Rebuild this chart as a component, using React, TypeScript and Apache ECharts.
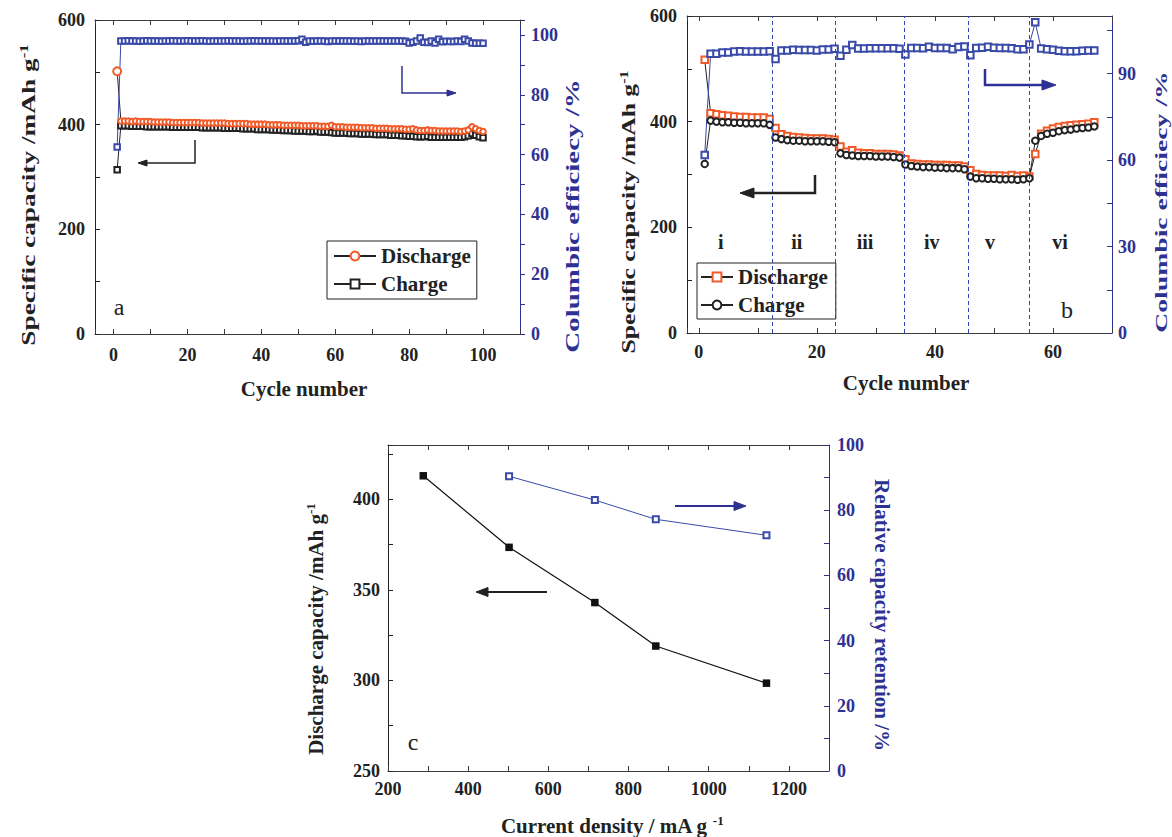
import React, { useEffect, useRef } from 'react';
import * as echarts from 'echarts';

const FONT = '"Liberation Serif", "Times New Roman", serif';
const BLUE_AXIS = '#2e3192';
const BLUE_MARK = '#3a4aa8';
const ORANGE = '#f15a29';
const DARK = '#222222';
const AXIS_GRAY = '#3a3a3a';

// ---------- Panel a : cycling at constant current ----------
const dischargeA = [
  502,
  407, 407, 407, 406, 407, 406, 406, 406, 406,
  405, 405, 405, 405, 405, 404, 404, 404, 404, 404,
  404, 404, 404, 403, 403, 403, 403, 403, 403, 403,
  402, 402, 402, 402, 402, 402, 401, 401, 401, 401,
  401, 400, 400, 400, 400, 399, 399, 399, 399, 399,
  398, 398, 398, 398, 398, 397, 397, 397, 399, 396,
  396, 396, 395, 395, 395, 395, 394, 394, 394, 394,
  393, 393, 393, 393, 392, 392, 392, 392, 391, 391,
  392, 390, 389, 389, 390, 389, 389, 388, 388, 388,
  388, 388, 388, 387, 388, 390, 396, 392, 389, 387,
];
const chargeA = [
  314,
  398, 398, 398, 397, 397, 397, 397, 396, 396,
  396, 396, 396, 396, 396, 395, 395, 395, 395, 395,
  395, 395, 395, 394, 394, 394, 394, 394, 394, 393,
  393, 393, 393, 393, 392, 392, 392, 392, 391, 391,
  391, 391, 390, 390, 390, 389, 389, 389, 388, 388,
  388, 388, 387, 387, 388, 386, 386, 386, 385, 384,
  384, 384, 384, 383, 383, 383, 382, 382, 382, 382,
  381, 381, 381, 381, 380, 380, 380, 379, 379, 378,
  378, 377, 377, 377, 378, 376, 376, 376, 376, 376,
  376, 376, 376, 376, 377, 379, 383, 380, 377, 375,
];
const efficiencyA = [
  62.5,
  98.0, 98.0, 98.1, 98.0, 98.0, 97.9, 98.0, 98.1, 98.0,
  98.0, 98.0, 97.9, 98.0, 98.0, 98.1, 98.0, 98.0, 98.0, 98.1,
  98.0, 98.0, 98.0, 98.1, 98.0, 97.9, 98.0, 98.0, 98.0, 98.0,
  98.1, 98.0, 98.0, 98.0, 97.9, 98.0, 98.0, 98.1, 98.0, 98.0,
  98.0, 98.0, 98.0, 97.9, 98.0, 98.0, 98.0, 98.0, 98.0, 98.1,
  98.6, 97.6, 98.0, 97.9, 98.0, 98.0, 98.0, 97.8, 98.0, 98.0,
  98.0, 98.0, 98.0, 98.0, 97.9, 98.0, 97.8, 98.0, 98.0, 98.0,
  98.0, 98.0, 98.0, 98.0, 98.0, 98.0, 98.0, 98.0, 97.9, 97.3,
  97.6, 98.0, 99.0, 97.6, 97.5, 98.0, 97.3, 98.6, 97.7, 97.9,
  97.8, 97.8, 98.0, 97.8, 98.6, 98.0, 97.3, 97.2, 97.2, 97.2,
];

// ---------- Panel b : rate capability ----------
const dischargeB = [
  517, 416, 414, 412, 411, 410, 409, 409, 408, 408, 408, 405,
  388, 376, 373, 371, 370, 369, 368, 368, 368, 367, 366,
  353, 343, 346, 341, 340, 340, 339, 339, 339, 338, 336,
  329, 321, 320, 319, 319, 318, 318, 318, 317, 317, 315,
  308, 301, 299, 298, 298, 298, 297, 299, 297, 298, 296,
  339, 377, 383, 387, 390, 392, 393, 394, 395, 396, 399,
];
const chargeB = [
  320, 402, 400, 399, 399, 398, 398, 397, 397, 397, 397, 394,
  370, 367, 365, 364, 364, 363, 363, 363, 363, 362, 361,
  340, 337, 336, 335, 335, 335, 334, 334, 334, 333, 332,
  319, 316, 315, 314, 314, 313, 313, 312, 312, 312, 310,
  296, 293, 293, 292, 292, 291, 291, 291, 290, 291, 293,
  364, 373, 377, 379, 382, 384, 385, 387, 388, 389, 391,
];
const efficiencyB = [
  61.8, 96.9, 96.9, 97.3, 97.3, 97.7, 97.8, 97.7, 97.7, 97.7, 97.7, 97.8,
  95.1, 98.0, 98.0, 98.3, 98.2, 98.2, 98.2, 98.0, 98.4, 98.4, 98.6,
  96.2, 98.3, 99.9, 98.7, 98.7, 98.8, 98.8, 98.8, 98.8, 98.8, 98.6,
  96.6, 98.9, 98.9, 98.8, 99.3, 98.9, 98.9, 98.9, 98.5, 99.2, 99.4,
  96.4, 98.9, 99.0, 99.3, 99.0, 98.9, 98.9, 98.8, 98.5, 98.5, 100.1,
  107.8, 98.7, 98.5, 98.3, 97.9, 97.8, 97.8, 97.8, 97.9, 98.0, 98.0,
];
const stageBoundariesB = [12.5, 23.1, 34.8, 45.7, 56];
const stageLabelsB = ['i', 'ii', 'iii', 'iv', 'v', 'vi'];

// ---------- Panel c : capacity vs current density ----------
const currentDensityC = [288, 502, 716, 868, 1144];
const dischargeCapC = [413, 373.5, 343, 319, 298.5];
const retentionDensityC = [502, 716, 868, 1144];
const retentionC = [90.4, 83.1, 77.2, 72.3];

// tick label steps
const every = (step: number) => (v: number) =>
  Math.abs(v % step) < 1e-6 ? String(v) : '';

const tickLabel = (color: string, margin: number, step: number) => ({
  show: true,
  interval: 0,
  fontFamily: FONT,
  fontWeight: 'bold',
  fontSize: 18,
  color,
  margin,
  formatter: every(step),
  hideOverlap: false,
});

function xAxisPair(gridIndex: number, min: number, max: number, step: number, labelStep: number, margin: number, useInterval: boolean) {
  const base: any = {
    type: 'value',
    gridIndex,
    min,
    max,
    splitLine: { show: false },
    axisLine: { show: true, onZero: false, lineStyle: { color: AXIS_GRAY, width: 1 } },
    axisTick: { show: true, inside: true, length: 5, lineStyle: { color: AXIS_GRAY, width: 1 } },
  };
  if (useInterval) base.interval = step;
  else { base.minInterval = step; base.maxInterval = step; }
  return [
    { ...base, position: 'bottom', axisLabel: tickLabel(DARK, margin, labelStep) },
    { ...base, position: 'top', axisLabel: { show: false } },
  ];
}

function yAxis(gridIndex: number, position: string, min: number, max: number, step: number, labelStep: number, color: string, inside: boolean, margin: number) {
  return {
    type: 'value',
    gridIndex,
    position,
    min,
    max,
    interval: step,
    splitLine: { show: false },
    axisLine: { show: true, onZero: false, lineStyle: { color, width: 1 } },
    axisTick: { show: true, inside, length: 5, lineStyle: { color, width: 1 } },
    axisLabel: tickLabel(color, margin, labelStep),
  };
}

const pairs = (ys: number[]) => ys.map((v, i) => [i + 1, v]);
const zip = (xs: number[], ys: number[]) => xs.map((x, i) => [x, ys[i]]);

const titleText = (text: string, x: number, y: number, rotation: number, scaleX: number, scaleY: number, color: string) => ({
  type: 'text',
  x,
  y,
  rotation,
  scaleX,
  scaleY,
  z: 100,
  style: {
    text,
    fontFamily: FONT,
    fontWeight: 'bold',
    fontSize: 21,
    fill: color,
    align: 'center',
    verticalAlign: 'middle',
    rich: {
      m: { fontFamily: FONT, fontWeight: 'bold', fontSize: 21, lineHeight: 24, fill: color },
      s: { fontFamily: FONT, fontWeight: 'bold', fontSize: 13, lineHeight: 10, verticalAlign: 'top', fill: color },
    },
  },
});

const arrow = (pts: number[][], head: number[][], color: string, width: number) => [
  { type: 'polyline', z: 100, shape: { points: pts }, style: { stroke: color, lineWidth: width, fill: 'none' } },
  { type: 'polygon', z: 100, shape: { points: head }, style: { fill: color, stroke: color, lineWidth: 1 } },
];

const plainText = (text: string, x: number, y: number, size: number, weight: string) => ({
  type: 'text',
  x,
  y,
  z: 100,
  style: { text, fontFamily: FONT, fontWeight: weight, fontSize: size, fill: DARK, align: 'center', verticalAlign: 'middle' },
});

const stageLabelPos = [720.7, 796.7, 865, 931.7, 990, 1060];

function buildOption(): any {
  const legendText = { fontFamily: FONT, fontWeight: 'bold', fontSize: 21, color: DARK, lineHeight: 22 };
  return {
    animation: false,
    backgroundColor: '#ffffff',
    grid: [
      { left: 95, top: 20, width: 425, height: 314, outerBoundsMode: 'none', containLabel: false },
      { left: 687, top: 16, width: 425, height: 317, outerBoundsMode: 'none', containLabel: false },
      { left: 388, top: 445, width: 441, height: 326, outerBoundsMode: 'none', containLabel: false },
    ],
    xAxis: [
      ...xAxisPair(0, -5, 110, 10, 20, 12, false),
      ...xAxisPair(1, -2, 70, 10, 20, 10, false),
      ...xAxisPair(2, 200, 1300, 100, 200, 9, true),
    ],
    yAxis: [
      yAxis(0, 'left', 0, 600, 100, 200, DARK, true, 10),
      yAxis(0, 'right', 0, 105, 10, 20, BLUE_AXIS, false, 11),
      yAxis(1, 'left', 0, 600, 100, 200, DARK, true, 10),
      yAxis(1, 'right', 0, 110, 15, 30, BLUE_AXIS, true, 6),
      yAxis(2, 'left', 250, 430, 25, 50, DARK, true, 8),
      yAxis(2, 'right', 0, 100, 10, 20, BLUE_AXIS, true, 8),
    ],
    legend: [
      {
        data: ['Discharge_a', 'Charge_a'],
        formatter: (n: string) => n.split('_')[0],
        orient: 'vertical',
        left: 327,
        top: 241,
        padding: [4, 6, 4, 6],
        itemWidth: 42,
        itemHeight: 11,
        itemGap: 6,
        borderColor: DARK,
        borderWidth: 1,
        backgroundColor: '#fff',
        selectedMode: false,
        textStyle: legendText,
      },
      {
        data: ['Discharge_b', 'Charge_b'],
        formatter: (n: string) => n.split('_')[0],
        orient: 'vertical',
        left: 697,
        top: 263,
        padding: [3, 8, 3, 3],
        itemWidth: 32,
        itemHeight: 11,
        itemGap: 6,
        borderColor: DARK,
        borderWidth: 1,
        backgroundColor: '#fff',
        selectedMode: false,
        textStyle: legendText,
      },
    ],
    series: [
      // panel a
      {
        name: 'Charge_a', type: 'line', xAxisIndex: 0, yAxisIndex: 0,
        data: pairs(chargeA), symbol: 'emptyRect', symbolSize: 5.5,
        itemStyle: { color: DARK, borderWidth: 1 }, lineStyle: { color: DARK, width: 1 },
      },
      {
        name: 'Discharge_a', type: 'line', xAxisIndex: 0, yAxisIndex: 0,
        data: pairs(dischargeA), symbol: 'emptyCircle',
        symbolSize: (_v: any, p: any) => (p.dataIndex === 0 ? 8 : 5.5),
        itemStyle: { color: ORANGE, borderWidth: 1 }, lineStyle: { color: DARK, width: 1 },
      },
      {
        name: 'CE_a', type: 'line', xAxisIndex: 0, yAxisIndex: 1,
        data: pairs(efficiencyA), symbol: 'emptyRect', symbolSize: 5.5,
        itemStyle: { color: BLUE_MARK, borderWidth: 1 }, lineStyle: { color: BLUE_MARK, width: 1 },
      },
      // panel b
      {
        name: 'Discharge_b', type: 'line', xAxisIndex: 2, yAxisIndex: 2,
        data: pairs(dischargeB), symbol: 'emptyRect', symbolSize: 6.5,
        itemStyle: { color: ORANGE, borderWidth: 1 }, lineStyle: { color: DARK, width: 1 },
        markLine: {
          silent: true,
          symbol: ['none', 'none'],
          label: { show: false },
          lineStyle: { type: [4, 3], color: '#3345b5', width: 1 },
          data: stageBoundariesB.map((v) => ({ xAxis: v })),
        },
      },
      {
        name: 'Charge_b', type: 'line', xAxisIndex: 2, yAxisIndex: 2,
        data: pairs(chargeB), symbol: 'emptyCircle', symbolSize: 6.5,
        itemStyle: { color: DARK, borderWidth: 1 }, lineStyle: { color: DARK, width: 1 },
      },
      {
        name: 'CE_b', type: 'line', xAxisIndex: 2, yAxisIndex: 3,
        data: pairs(efficiencyB), symbol: 'emptyRect', symbolSize: 6.5,
        itemStyle: { color: BLUE_MARK, borderWidth: 1 }, lineStyle: { color: BLUE_MARK, width: 1 },
      },
      // panel c
      {
        name: 'Discharge capacity', type: 'line', xAxisIndex: 4, yAxisIndex: 4,
        data: zip(currentDensityC, dischargeCapC), symbol: 'rect', symbolSize: 7.5,
        itemStyle: { color: '#111' }, lineStyle: { color: '#111', width: 1.2 },
      },
      {
        name: 'Relative capacity retention', type: 'line', xAxisIndex: 4, yAxisIndex: 5,
        data: zip(retentionDensityC, retentionC), symbol: 'emptyRect', symbolSize: 6,
        itemStyle: { color: BLUE_MARK, borderWidth: 1 }, lineStyle: { color: BLUE_MARK, width: 1 },
      },
    ],
    graphic: [
      // axis titles
      titleText('{m|Specific capacity /mAh g}{s|-1}', 29, 195, Math.PI / 2, 1.3, 0.88, DARK),
      titleText('Columbic efficiecy /%', 573, 216, Math.PI / 2, 1.38, 0.88, BLUE_AXIS),
      titleText('Cycle number', 304, 389, 0, 1, 1, DARK),
      titleText('{m|Specific capacity /mAh g}{s|-1}', 629, 212, Math.PI / 2, 1.22, 0.88, DARK),
      titleText('Columbic efficiecy /%', 1161, 202, Math.PI / 2, 1.32, 0.82, BLUE_AXIS),
      titleText('Cycle number', 906, 383, 0, 1, 1, DARK),
      titleText('{m|Discharge capacity /mAh g}{s|-1}', 316, 629, Math.PI / 2, 1, 1, DARK),
      titleText('Relative capacity retention /%', 882, 615, -Math.PI / 2, 1, 1, BLUE_AXIS),
      titleText('{m|Current density / mA g }{s|-1}', 612, 826, 0, 1, 1, DARK),
      // panel letters
      plainText('a', 119, 307, 24, 'normal'),
      plainText('b', 1067, 310, 24, 'normal'),
      plainText('c', 413, 742, 24, 'normal'),
      // stage labels
      ...stageLabelsB.map((t, i) => plainText(t, stageLabelPos[i], 242, 20, 'bold')),
      // arrows
      ...arrow([[195, 140], [195, 163], [145, 163]], [[138, 163], [147, 160], [147, 166]], DARK, 1.5),
      ...arrow([[402, 66], [402, 93], [449, 93]], [[456, 93], [447, 90], [447, 96]], BLUE_AXIS, 1.5),
      ...arrow([[815, 175], [815, 193], [752, 193]], [[740, 193], [754, 188], [754, 198]], DARK, 2.5),
      ...arrow([[985, 69], [985, 85], [1044, 85]], [[1056, 85], [1042, 80], [1042, 90]], BLUE_AXIS, 2.5),
      ...arrow([[547, 592], [486, 592]], [[476, 592], [488, 587.5], [488, 596.5]], DARK, 2),
      ...arrow([[675, 506], [736, 506]], [[746, 506], [734, 501.5], [734, 510.5]], BLUE_AXIS, 2),
    ],
  };
}

export default function App() {
  const ref = useRef<HTMLDivElement>(null);
  useEffect(() => {
    if (!ref.current) return;
    const chart = echarts.init(ref.current, null, { renderer: 'svg' });
    chart.setOption(buildOption());
    return () => chart.dispose();
  }, []);
  return (
    <div
      ref={ref}
      style={{ position: 'absolute', left: 0, top: 0, width: 1172, height: 837, background: '#fff' }}
    />
  );
}
